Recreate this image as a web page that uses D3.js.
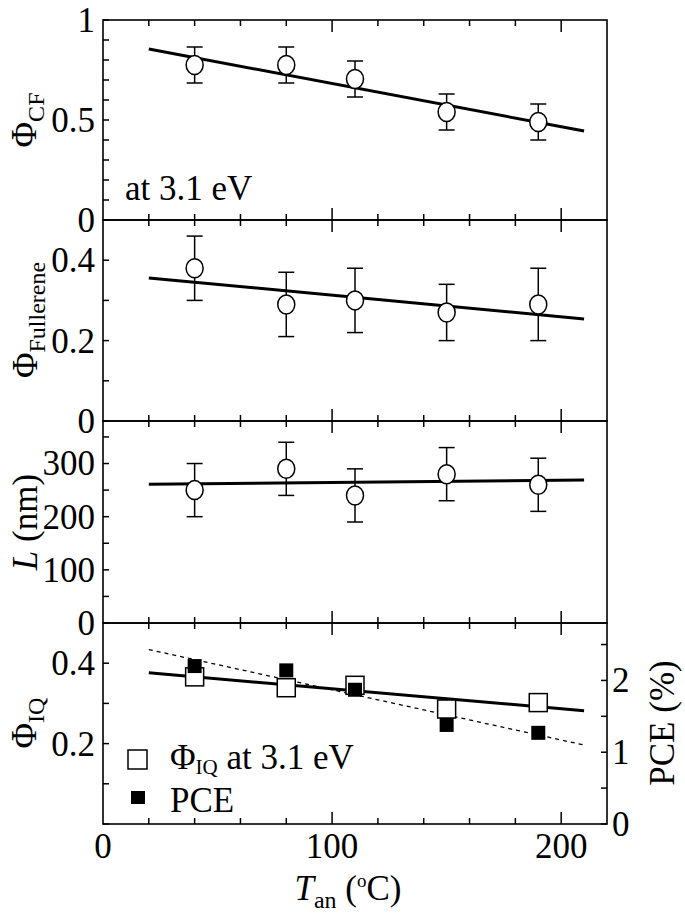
<!DOCTYPE html>
<html><head><meta charset="utf-8">
<script src="https://cdn.jsdelivr.net/npm/d3@7"></script>
<style>body{margin:0;background:#fff}svg{display:block}text{font-family:"Liberation Serif","Times New Roman",serif;fill:#000}</style>
</head><body><svg id="c" width="685" height="916"></svg>
<script>
// ---------- data ----------
const tAn = [40, 80, 110, 150, 190];
const fitX = [20, 210];
const phiCF = [0.775, 0.775, 0.705, 0.54, 0.49];
const phiCFErr = [0.09, 0.09, 0.09, 0.09, 0.09];
const phiCFFit = [0.855, 0.445];
const phiFul = [0.38, 0.29, 0.30, 0.27, 0.29];
const phiFulErr = [0.08, 0.08, 0.08, 0.07, 0.09];
const phiFulFit = [0.356, 0.254];
const lenL = [250, 290, 240, 280, 260];
const lenLErr = [50, 50, 50, 50, 50];
const lenLFit = [261, 269];
const phiIQ = [0.366, 0.339, 0.345, 0.286, 0.302];
const phiIQFit = [0.376, 0.282];
const pce = [2.2, 2.14, 1.87, 1.38, 1.27];
const pceFit = [2.43, 1.10];
const xTicks = [0, 20, 40, 60, 80, 100, 120, 140, 160, 180, 200, 220];
const xTickLabels = ["0", "100", "200"];

const FS = 35, SUB = 24;
const svg = d3.select("#c");
const L = 103, R = 607;
const x = d3.scaleLinear([0, 220], [L, R]);
const panels = [
  {top: 20, bot: 220, dom: [0, 1], ticks: d3.range(0, 1.01, 0.1), labels: [0, 0.5, 1], fmt: d => d === 0 ? "0" : d === 1 ? "1" : "0.5"},
  {top: 220, bot: 421, dom: [0, 0.5], ticks: d3.range(0, 0.51, 0.1), labels: [0, 0.2, 0.4], fmt: d => d === 0 ? "0" : d3.format(".1f")(d)},
  {top: 421, bot: 623, dom: [0, 380], ticks: d3.range(0, 380, 50), labels: [0, 100, 200, 300], fmt: d => String(d)},
  {top: 623, bot: 824, dom: [0, 0.5], ticks: d3.range(0, 0.51, 0.1), labels: [0.2, 0.4], fmt: d => d3.format(".1f")(d)}
];
panels.forEach(p => p.y = d3.scaleLinear(p.dom, [p.bot, p.top]));
const yPCE = d3.scaleLinear([0, 2.8], [824, 623]);

const g = svg.append("g");

panels.forEach((p, i) => {
  xTicks.forEach(v => {
    const len = (v % 100 === 0) ? 12 : 6;
    if (v === 0 || v === 220) return;
    g.append("line").attr("x1", x(v)).attr("x2", x(v)).attr("y1", p.top).attr("y2", p.top + len)
      .attr("stroke", "#000").attr("stroke-width", 1.5);
    g.append("line").attr("x1", x(v)).attr("x2", x(v)).attr("y1", p.bot).attr("y2", p.bot - len)
      .attr("stroke", "#000").attr("stroke-width", 1.5);
  });
  p.ticks.forEach(v => {
    g.append("line").attr("x1", L).attr("x2", L + 6).attr("y1", p.y(v)).attr("y2", p.y(v))
      .attr("stroke", "#000").attr("stroke-width", 1.5);
  });
  p.labels.forEach(v => {
    g.append("text").attr("x", 95).attr("y", p.y(v)).attr("dy", "0.34em")
      .attr("text-anchor", "end").attr("font-size", FS).text(p.fmt(v));
  });
  g.append("rect").attr("x", L).attr("y", p.top).attr("width", R - L).attr("height", p.bot - p.top)
    .attr("fill", "none").attr("stroke", "#000").attr("stroke-width", 1.6);
});

// right PCE axis
d3.range(0, 2.81, 0.5).forEach(v => {
  g.append("line").attr("x1", R).attr("x2", R - 6).attr("y1", yPCE(v)).attr("y2", yPCE(v))
    .attr("stroke", "#000").attr("stroke-width", 1.5);
});
[0, 1, 2].forEach(v => {
  g.append("text").attr("x", 612).attr("y", yPCE(v)).attr("dy", "0.34em")
    .attr("font-size", FS).text(String(v));
});

// x tick labels
[0, 100, 200].forEach((v, i) => {
  g.append("text").attr("x", x(v)).attr("y", 858).attr("text-anchor", "middle")
    .attr("font-size", FS).text(xTickLabels[i]);
});

function fitLine(ys, yScale, dashed) {
  g.append("line").attr("x1", x(fitX[0])).attr("x2", x(fitX[1]))
    .attr("y1", yScale(ys[0])).attr("y2", yScale(ys[1]))
    .attr("stroke", "#000").attr("stroke-width", dashed ? 1.3 : 3)
    .attr("stroke-dasharray", dashed ? "4,4" : null);
}
function errCircles(vals, errs, yScale) {
  vals.forEach((v, i) => {
    const cx = x(tAn[i]);
    const y1 = yScale(v + errs[i]), y2 = yScale(v - errs[i]);
    g.append("line").attr("x1", cx).attr("x2", cx).attr("y1", y1).attr("y2", y2)
      .attr("stroke", "#000").attr("stroke-width", 1.5);
    [y1, y2].forEach(yy => g.append("line").attr("x1", cx - 8).attr("x2", cx + 8)
      .attr("y1", yy).attr("y2", yy).attr("stroke", "#000").attr("stroke-width", 1.5));
  });
  vals.forEach((v, i) => {
    g.append("ellipse").attr("cx", x(tAn[i])).attr("cy", yScale(v)).attr("rx", 8.5).attr("ry", 9.5)
      .attr("fill", "#fff").attr("stroke", "#000").attr("stroke-width", 1.5);
  });
}

fitLine(phiCFFit, panels[0].y);
errCircles(phiCF, phiCFErr, panels[0].y);
fitLine(phiFulFit, panels[1].y);
errCircles(phiFul, phiFulErr, panels[1].y);
fitLine(lenLFit, panels[2].y);
errCircles(lenL, lenLErr, panels[2].y);

fitLine(pceFit, yPCE, true);
fitLine(phiIQFit, panels[3].y);
phiIQ.forEach((v, i) => {
  g.append("rect").attr("x", x(tAn[i]) - 9).attr("y", panels[3].y(v) - 9).attr("width", 18).attr("height", 18)
    .attr("fill", "#fff").attr("stroke", "#000").attr("stroke-width", 1.5);
});
pce.forEach((v, i) => {
  g.append("rect").attr("x", x(tAn[i]) - 7).attr("y", yPCE(v) - 7).attr("width", 14).attr("height", 14)
    .attr("fill", "#000");
});

g.append("text").attr("x", 125).attr("y", 200).attr("font-size", FS).text("at 3.1 eV");

// legend
g.append("rect").attr("x", 128).attr("y", 750).attr("width", 19).attr("height", 19)
  .attr("fill", "#fff").attr("stroke", "#000").attr("stroke-width", 1.5);
g.append("rect").attr("x", 131).attr("y", 791).attr("width", 14).attr("height", 13).attr("fill", "#000");
const lt = g.append("text").attr("x", 170).attr("y", 769).attr("font-size", FS);
lt.append("tspan").text("Φ");
lt.append("tspan").attr("font-size", SUB - 3).attr("dy", 5).text("IQ");
lt.append("tspan").attr("dy", -5).text(" at 3.1 eV");
g.append("text").attr("x", 170).attr("y", 812).attr("font-size", FS).text("PCE");

function yTitle(cx, cy, build) {
  const t = g.append("text").attr("transform", `translate(${cx},${cy}) rotate(-90)`)
    .attr("text-anchor", "middle").attr("font-size", FS);
  build(t);
}
yTitle(36, 120, t => { t.append("tspan").text("Φ"); t.append("tspan").attr("font-size", SUB).attr("dy", 8).text("CF"); });
yTitle(37, 320, t => { t.append("tspan").text("Φ"); t.append("tspan").attr("font-size", SUB).attr("dy", 8).text("Fullerene"); });
yTitle(37, 522, t => { t.append("tspan").attr("font-style", "italic").text("L"); t.append("tspan").text(" (nm)"); });
yTitle(36, 723, t => { t.append("tspan").text("Φ"); t.append("tspan").attr("font-size", SUB).attr("dy", 8).text("IQ"); });
g.append("text").attr("transform", "translate(674,723) rotate(-90)").attr("text-anchor", "middle")
  .attr("font-size", FS).text("PCE (%)");

const xt = g.append("text").attr("x", 348).attr("y", 900).attr("text-anchor", "middle").attr("font-size", FS);
xt.append("tspan").attr("font-style", "italic").text("T");
xt.append("tspan").attr("font-size", SUB).attr("dy", 8).text("an");
xt.append("tspan").attr("dy", -8).text(" (");
xt.append("tspan").attr("font-size", 19).attr("dy", -13).text("o");
xt.append("tspan").attr("dy", 13).text("C)");
</script></body></html>
